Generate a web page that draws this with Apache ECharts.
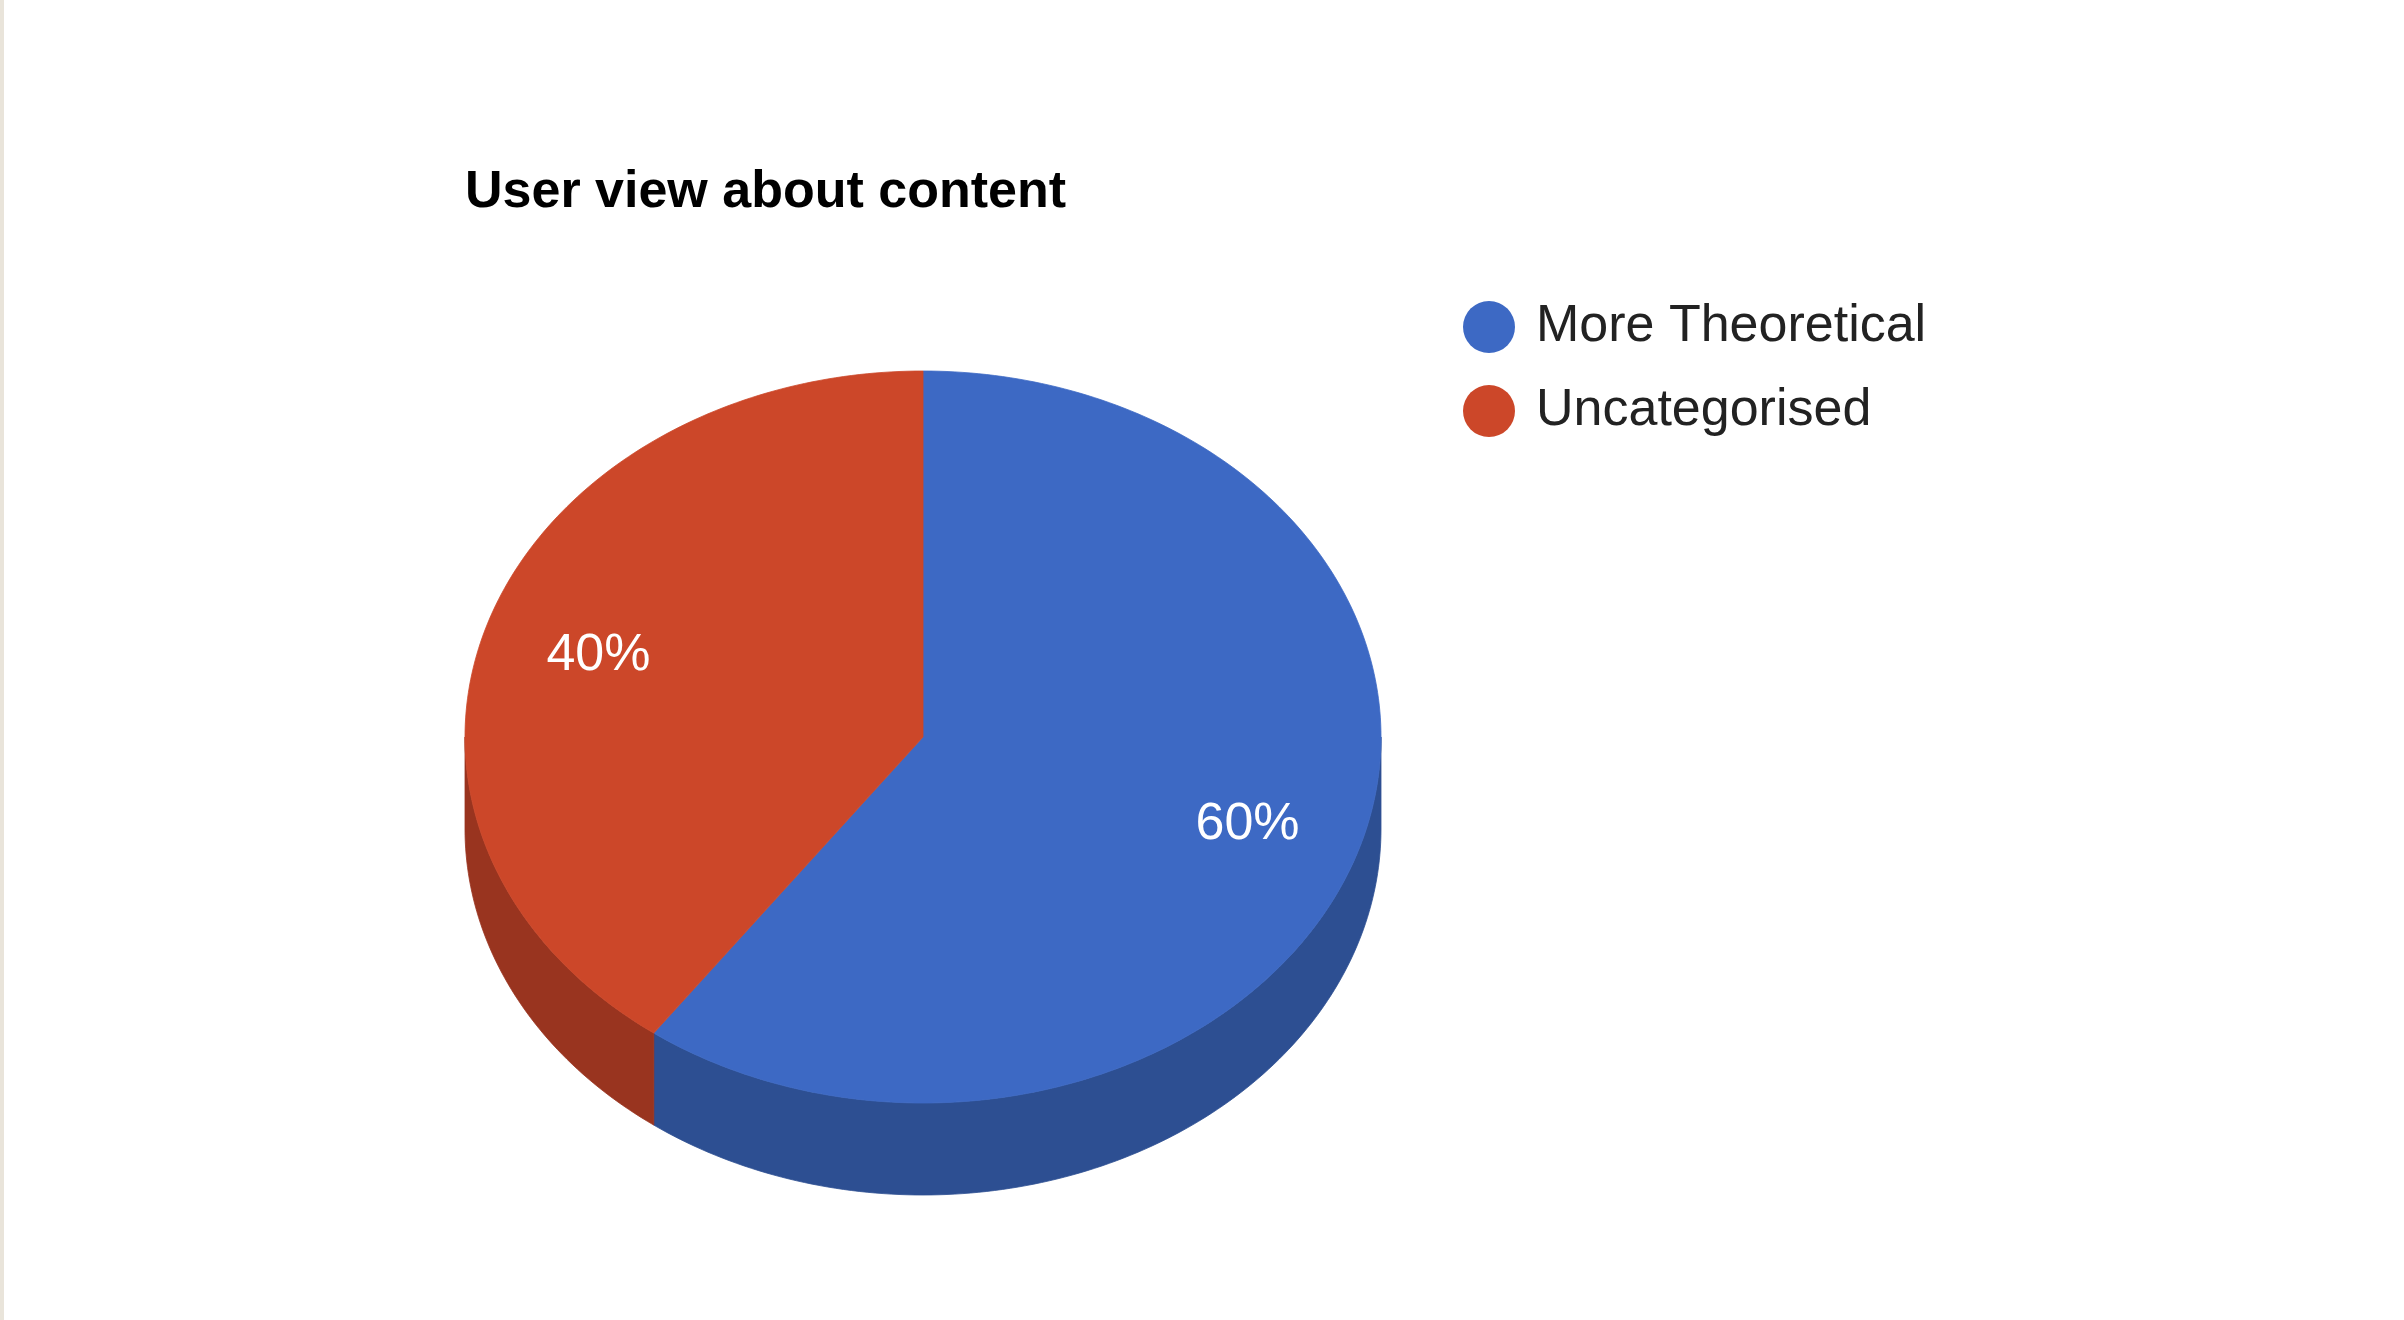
<!DOCTYPE html>
<html>
<head>
<meta charset="utf-8">
<script src="https://cdn.jsdelivr.net/npm/echarts@6/dist/echarts.min.js"></script>
<style>
html,body{margin:0;padding:0;background:#fff;}
#chart{position:absolute;left:0;top:0;width:2404px;height:1320px;}
#stripe{position:absolute;left:0;top:0;width:4px;height:1320px;background:#e9e4da;z-index:5;}
</style>
</head>
<body>
<div id="chart"></div>
<div id="stripe"></div>
<script>
// ---- data ----
const categories = ['More Theoretical', 'Uncategorised'];
const values = [60, 40];
const titleText = 'User view about content';

// ---- style ----
const topColors = ['#3d69c4', '#cc4729'];
const sideColors = ['#2d4f92', '#99341f'];
const FONT = '"Liberation Sans", Arial, sans-serif';

// ---- layout of the tilted pie ----
const CX = 923, CY = 737, RX = 458, RY = 366, DEPTH = 92, LABEL_R = 0.745, LABEL_DY = 3;

function pt(deg, dy) {
  const r = deg * Math.PI / 180;
  return [CX + RX * Math.sin(r), CY - RY * Math.cos(r) + (dy || 0)];
}
function arcPoints(a0, a1, dy) {
  const n = Math.max(2, Math.ceil(Math.abs(a1 - a0)));
  const pts = [];
  for (let i = 0; i <= n; i++) pts.push(pt(a0 + (a1 - a0) * i / n, dy));
  return pts;
}
const total = values.reduce((a, b) => a + b, 0);

function renderSlice(params, api) {
  const i = params.seriesIndex;
  let before = 0;
  for (let k = 0; k < i; k++) before += values[k];
  const start = before / total * 360;
  const end = (before + values[i]) / total * 360;
  const children = [];
  // visible side wall: front half (90..270 deg, clockwise from 12 o'clock)
  const s = Math.max(start, 90), e = Math.min(end, 270);
  if (e > s) {
    const pts = arcPoints(s, e, 0).concat(arcPoints(s, e, DEPTH).reverse());
    children.push({type: 'polygon', shape: {points: pts},
      style: {fill: sideColors[i], stroke: sideColors[i], lineWidth: 0.8}});
  }
  const topPts = [[CX, CY]].concat(arcPoints(start, end, 0));
  children.push({type: 'polygon', shape: {points: topPts},
    style: {fill: topColors[i], stroke: topColors[i], lineWidth: 0.8}});
  const mid = (start + end) / 2 * Math.PI / 180;
  children.push({type: 'text', z2: 10,
    x: CX + LABEL_R * RX * Math.sin(mid),
    y: CY - LABEL_R * RY * Math.cos(mid) + LABEL_DY,
    style: {text: Math.round(values[i] / total * 100) + '%', fill: '#ffffff',
      fontSize: 52, fontFamily: FONT, align: 'center', verticalAlign: 'middle'}});
  return {type: 'group', children: children};
}

const chart = echarts.init(document.getElementById('chart'), null, {renderer: 'canvas'});
chart.setOption({
  animation: false,
  backgroundColor: '#ffffff',
  title: {
    text: titleText, left: 460, top: 162,
    textStyle: {fontFamily: FONT, fontWeight: 'bold', fontSize: 52, color: '#000000'}
  },
  legend: {
    orient: 'vertical', left: 1458, top: 296,
    icon: 'circle', itemWidth: 52, itemHeight: 52, itemGap: 32,
    data: categories,
    textStyle: {fontFamily: FONT, fontSize: 52, color: '#222222', padding: [0, 0, 0, 16]}
  },
  series: categories.map((name, i) => ({
    type: 'custom', name: name, coordinateSystem: 'none',
    itemStyle: {color: topColors[i]},
    data: [[values[i]]],
    renderItem: renderSlice
  }))
});
</script>
</body>
</html>
